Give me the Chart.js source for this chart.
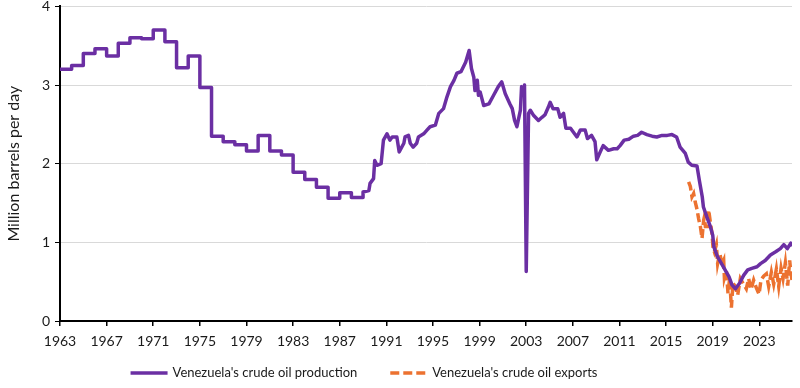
<!DOCTYPE html>
<html>
<head>
<meta charset="utf-8">
<script src="https://cdn.jsdelivr.net/npm/chart.js@4.4.0/dist/chart.umd.min.js"></script>
<style>
  html, body { margin: 0; padding: 0; background: #fff; }
</style>
</head>
<body>
<canvas id="oilChart" width="800" height="388"></canvas>
<script>
// annual production, held flat through each year (million barrels per day)
const annualYears = [1963, 1964, 1965, 1966, 1967, 1968, 1969, 1970, 1971, 1972, 1973, 1974, 1975,
  1976, 1977, 1978, 1979, 1980, 1981, 1982, 1983, 1984, 1985, 1986, 1987, 1988];
const annualProd = [3.20, 3.25, 3.40, 3.46, 3.37, 3.53, 3.60, 3.59, 3.70, 3.55, 3.22, 3.37, 2.97,
  2.35, 2.28, 2.24, 2.16, 2.36, 2.16, 2.11, 1.89, 1.80, 1.70, 1.56, 1.63, 1.57];

// production from 1989 on (fractional years)
const prodYears = [1989.0, 1989.5, 1989.6, 1989.9, 1990.0, 1990.2, 1990.55, 1990.75, 1991.05, 1991.3,
  1991.5, 1991.9, 1992.1, 1992.5, 1992.6, 1992.9, 1993.05, 1993.3, 1993.6, 1993.75, 1994.2, 1994.5,
  1994.75, 1995.2, 1995.5, 1995.9, 1996.2, 1996.5, 1996.8, 1997.05, 1997.4, 1997.8, 1998.1, 1998.3,
  1998.5, 1998.6, 1998.8, 1998.9, 1999.05, 1999.35, 1999.8, 2000.2, 2000.6, 2000.9, 2001.2, 2001.6,
  2001.8, 2002.0, 2002.2, 2002.5, 2002.6, 2002.7, 2002.85, 2003.0, 2003.2, 2003.35, 2003.6, 2004.05,
  2004.35, 2004.6, 2004.9, 2005.05, 2005.3, 2005.7, 2005.9, 2006.2, 2006.4, 2006.8, 2007.05, 2007.35,
  2007.65, 2008.05, 2008.25, 2008.6, 2008.9, 2009.05, 2009.35, 2009.6, 2010.05, 2010.5, 2010.8,
  2011.05, 2011.4, 2011.8, 2012.2, 2012.55, 2012.9, 2013.35, 2013.8, 2014.2, 2014.65, 2015.1, 2015.5,
  2015.9, 2016.2, 2016.65, 2016.9, 2017.2, 2017.65, 2017.85, 2018.1, 2018.2, 2018.5, 2018.8, 2019.0,
  2019.1, 2019.4, 2019.9, 2020.4, 2020.65, 2020.95, 2021.3, 2021.65, 2022.0, 2022.35, 2022.8, 2023.1,
  2023.5, 2023.95, 2024.4, 2024.8, 2025.1, 2025.4, 2025.7, 2025.8];
const prodValues = [1.64, 1.66, 1.75, 1.81, 2.04, 1.98, 2.00, 2.30, 2.38, 2.30,
  2.34, 2.34, 2.15, 2.26, 2.34, 2.36, 2.26, 2.21, 2.26, 2.34, 2.38, 2.43,
  2.47, 2.49, 2.64, 2.70, 2.85, 2.98, 3.06, 3.15, 3.17, 3.29, 3.44, 3.21,
  3.10, 2.93, 3.06, 2.87, 2.91, 2.74, 2.76, 2.87, 2.98, 3.04, 2.89, 2.76,
  2.70, 2.55, 2.47, 2.68, 2.98, 2.89, 3.00, 0.63, 2.64, 2.68, 2.62, 2.55,
  2.59, 2.62, 2.72, 2.78, 2.70, 2.70, 2.59, 2.64, 2.45, 2.45, 2.40, 2.34,
  2.43, 2.43, 2.32, 2.36, 2.28, 2.05, 2.15, 2.23, 2.17, 2.19, 2.19,
  2.23, 2.30, 2.31, 2.35, 2.36, 2.40, 2.37, 2.35, 2.34, 2.36, 2.36, 2.37,
  2.34, 2.21, 2.13, 2.02, 1.98, 1.97, 1.79, 1.58, 1.45, 1.32, 1.20, 1.09,
  0.94, 0.82, 0.69, 0.56, 0.46, 0.41, 0.48, 0.58, 0.65, 0.67, 0.69, 0.73,
  0.77, 0.84, 0.88, 0.92, 0.97, 0.92, 0.99, 0.95];

// exports
const exportYears = [2016.93, 2017.08, 2017.22, 2017.36, 2017.5, 2017.65, 2017.79, 2017.94, 2018.08,
  2018.22, 2018.28, 2018.37, 2018.56, 2018.65, 2018.8, 2018.94, 2019.02, 2019.14, 2019.31, 2019.42,
  2019.6, 2019.8, 2019.94, 2020.0, 2020.17, 2020.31, 2020.45, 2020.6, 2020.74, 2020.94, 2021.14,
  2021.37, 2021.6, 2021.88, 2022.08, 2022.28, 2022.51, 2022.74, 2022.97, 2023.14, 2023.37, 2023.6,
  2023.8, 2024.03, 2024.23, 2024.46, 2024.66, 2024.86, 2025.03, 2025.23, 2025.43, 2025.6, 2025.7, 2025.8];
const exportValues = [1.77, 1.71, 1.58, 1.62, 1.51, 1.42, 1.30, 1.20, 1.05,
  1.28, 1.32, 1.20, 1.20, 1.41, 1.25, 1.11, 0.94, 0.88, 0.97, 0.73,
  0.86, 0.72, 0.77, 0.55, 0.64, 0.35, 0.54, 0.17, 0.48, 0.44, 0.33,
  0.54, 0.48, 0.41, 0.54, 0.40, 0.52, 0.42, 0.34, 0.52, 0.57, 0.60,
  0.44, 0.62, 0.47, 0.66, 0.44, 0.67, 0.54, 0.74, 0.45, 0.77, 0.62, 0.52];

const xTickYears = [1963, 1967, 1971, 1975, 1979, 1983, 1987, 1991, 1995, 1999, 2003, 2007, 2011, 2015, 2019, 2023];

// annual values become flat steps
const productionData = [];
annualYears.forEach((yr, i) => {
  productionData.push({ x: yr, y: annualProd[i] });
  productionData.push({ x: yr + 1, y: annualProd[i] });
});
prodYears.forEach((yr, i) => productionData.push({ x: yr, y: prodValues[i] }));

const exportData = exportYears.map((yr, i) => ({ x: yr, y: exportValues[i] }));

// legend drawn by hand under the axis (line sample + label, same styles as the datasets)
const bottomLegend = {
  id: 'bottomLegend',
  afterDraw(chart) {
    const c = chart.ctx;
    const sets = chart.data.datasets;
    const lineLen = 37, textGap = 5, itemGap = 33, centerX = 364, y = 373;
    c.save();
    c.font = '13px Lato';
    const widths = sets.map(d => c.measureText(d.label).width);
    const total = widths.reduce((s, w) => s + lineLen + textGap + w, 0) + itemGap * (sets.length - 1);
    let x = centerX - total / 2;
    sets.forEach((d, i) => {
      c.beginPath();
      c.setLineDash(d.borderDash || []);
      c.lineWidth = d.borderWidth;
      c.strokeStyle = d.borderColor;
      c.moveTo(x, y);
      c.lineTo(x + lineLen, y);
      c.stroke();
      c.setLineDash([]);
      c.fillStyle = '#1a1a1a';
      c.textBaseline = 'middle';
      c.textAlign = 'left';
      c.fillText(d.label, x + lineLen + textGap, y);
      x += lineLen + textGap + widths[i] + itemGap;
    });
    c.restore();
  }
};

const ctx = document.getElementById('oilChart').getContext('2d');
new Chart(ctx, {
  type: 'line',
  data: {
    datasets: [
      {
        label: "Venezuela's crude oil production",
        data: productionData,
        borderColor: '#6b2fa3',
        backgroundColor: '#6b2fa3',
        borderWidth: 3.5,
        pointRadius: 0,
        tension: 0,
        borderJoinStyle: 'round'
      },
      {
        label: "Venezuela's crude oil exports",
        data: exportData,
        borderColor: '#ec7230',
        backgroundColor: '#ec7230',
        borderWidth: 3.5,
        borderDash: [9, 4],
        pointRadius: 0,
        tension: 0
      }
    ]
  },
  options: {
    responsive: false,
    animation: false,
    layout: { padding: { left: 0, right: 8, top: 0, bottom: 34 } },
    scales: {
      x: {
        type: 'linear',
        min: 1963,
        max: 2025.8,
        afterBuildTicks: scale => {
          scale.ticks = xTickYears.map(v => ({ value: v }));
        },
        afterFit: scale => { scale.height = 33; },
        ticks: {
          callback: v => String(v),
          font: { family: 'Lato', size: 14 },
          color: '#1a1a1a',
          maxRotation: 0,
          autoSkip: false,
          padding: 7
        },
        grid: { drawOnChartArea: false, drawTicks: true, tickLength: 5, color: '#000', lineWidth: 1.5 },
        border: { color: '#000', width: 2 }
      },
      y: {
        min: 0,
        max: 4,
        afterFit: scale => { scale.width = 60; },
        ticks: {
          stepSize: 1,
          font: { family: 'Lato', size: 14, lineHeight: 0.2 },
          color: '#1a1a1a',
          padding: 5
        },
        grid: { color: '#d9d9d9', lineWidth: 1, tickColor: '#000', tickLength: 5 },
        border: { color: '#000', width: 2 },
        title: {
          display: true,
          text: 'Million barrels per day',
          font: { family: 'Lato', size: 16 },
          color: '#1a1a1a',
          padding: { top: 4, bottom: 0 }
        }
      }
    },
    plugins: {
      legend: { display: false },
      tooltip: { enabled: false }
    }
  },
  plugins: [bottomLegend]
});
</script>
</body>
</html>
